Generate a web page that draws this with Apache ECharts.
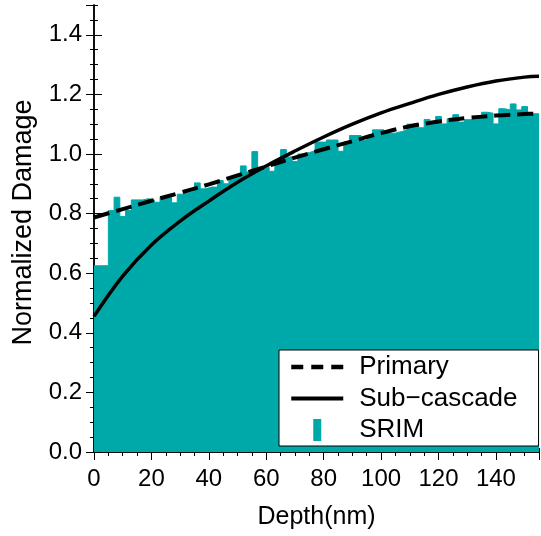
<!DOCTYPE html>
<html><head><meta charset="utf-8">
<script src="https://cdn.jsdelivr.net/npm/echarts@6/dist/echarts.min.js"></script>
<style>html,body{margin:0;padding:0;background:#fff}#c{width:541px;height:536px}</style>
</head><body><div id="c"></div>
<script>
// SRIM histogram: bin start (nm) and normalized damage
const binStart = [0,5,7,9,11,13,15,17,19,21,23,25,27,29,31,33,35,37,39,41,43,45,47,49,51,53,55,57,59,61,63,65,67,69,71,73,75,77,79,81,83,85,87,89,91,93,95,97,99,101,103,105,107,109,111,113,115,117,119,121,123,125,127,129,131,133,135,137,139,141,143,145,147,149,151,153];
const binEnd = 155;
const srimValues = [0.625,0.81,0.855,0.79,0.81,0.846,0.846,0.85,0.846,0.838,0.855,0.855,0.836,0.865,0.87,0.875,0.903,0.883,0.889,0.889,0.911,0.90,0.92,0.925,0.96,0.94,1.008,0.95,0.955,0.942,0.98,1.015,0.99,0.975,1.0,1.005,1.01,1.04,1.04,1.047,1.047,1.009,1.04,1.062,1.062,1.045,1.06,1.081,1.081,1.07,1.07,1.075,1.08,1.10,1.10,1.088,1.116,1.10,1.126,1.101,1.118,1.132,1.107,1.115,1.121,1.126,1.14,1.137,1.101,1.152,1.148,1.168,1.148,1.159,1.135,1.135];
// Model curves
const curveDepth = [0,10,20,30,40,50,60,70,80,90,100,110,120,130,140,150,155];
const primaryValues = [0.787,0.815,0.843,0.87,0.898,0.928,0.958,0.988,1.016,1.043,1.07,1.093,1.109,1.121,1.129,1.134,1.136];
const subcascadeValues = [0.455,0.59,0.695,0.775,0.842,0.905,0.96,1.01,1.057,1.1,1.138,1.17,1.2,1.225,1.245,1.258,1.261];
const seriesNames = ['Primary','Sub\u2212cascade','SRIM'];

const FONT = 'Liberation Sans, Arial, sans-serif';
const TEAL = '#00A9A9';
const srimData = binStart.map((x,i)=>[x, srimValues[i]]);
srimData.push([binEnd, srimValues[srimValues.length-1]]);
const primaryData = curveDepth.map((x,i)=>[x, primaryValues[i]]);
const subData = curveDepth.map((x,i)=>[x, subcascadeValues[i]]);

function xAx(pos, interval, len, labels, line){
  return {type:'value', min:0, max:155, interval:interval, position:pos,
    axisLine:{show:line, lineStyle:{color:'#000', width:1.5}},
    axisTick:{show:true, inside:true, length:len, lineStyle:{color:'#000', width:1}},
    axisLabel:{show:labels, showMaxLabel:false, color:'#000', fontSize:24, fontFamily:FONT, margin:15},
    splitLine:{show:false}};
}
function yAx(pos, interval, len, labels, line){
  return {type:'value', min:0, max:1.5, interval:interval, position:pos,
    axisLine:{show:line, lineStyle:{color:'#000', width:1.5}},
    axisTick:{show:true, inside:true, length:len, lineStyle:{color:'#000', width:1}},
    axisLabel:{show:labels, showMaxLabel:false, color:'#000', fontSize:24, fontFamily:FONT, margin:12,
      formatter:v=>v.toFixed(1)},
    splitLine:{show:false}};
}
const x0 = xAx('bottom',20,8,true,true);
x0.name='Depth(nm)'; x0.nameLocation='middle'; x0.nameGap=53;
x0.nameTextStyle={color:'#000', fontSize:25, fontFamily:FONT};
const y0 = yAx('left',0.2,8,true,true);
y0.name='Normalized Damage'; y0.nameLocation='middle'; y0.nameGap=57;
y0.nameTextStyle={color:'#000', fontSize:27, fontFamily:FONT, padding:[0,0,0,12]};

const chart = echarts.init(document.getElementById('c'), null, {renderer:'canvas'});
chart.setOption({
  animation:false,
  backgroundColor:'#fff',
  grid:{left:94, right:2, top:5, bottom:84},
  xAxis:[x0, xAx('bottom',5,4,false,false), xAx('top',20,8,false,true), xAx('top',5,4,false,false)],
  yAxis:[y0, yAx('left',0.05,4,false,false), yAx('right',0.2,8,false,true), yAx('right',0.05,4,false,false)],
  legend:{
    left:279, top:350, orient:'vertical', selectedMode:false,
    backgroundColor:'#fff', borderColor:'#000', borderWidth:1,
    padding:[4,21,3,10], itemWidth:52, itemHeight:22, itemGap:5.5,
    textStyle:{color:'#000', fontSize:26, fontFamily:FONT, padding:[0,0,0,11]},
    data:[
      {name:seriesNames[0], lineStyle:{type:[12,8], width:4.5, color:'#000'}, itemStyle:{opacity:0}},
      {name:seriesNames[1], lineStyle:{width:4, color:'#000'}, itemStyle:{opacity:0}},
      {name:seriesNames[2], icon:'path://M0,0L8,0L8,22L0,22Z'}]
  },
  series:[
    {name:seriesNames[2], type:'line', step:'end', data:srimData, symbol:'none', z:1,
      itemStyle:{color:TEAL}, lineStyle:{color:TEAL, width:1}, areaStyle:{color:TEAL, opacity:1}},
    {name:seriesNames[0], type:'line', data:primaryData, smooth:0.4, symbol:'none', z:3,
      itemStyle:{color:'#000'}, lineStyle:{color:'#000', width:4, type:[16,7]}},
    {name:seriesNames[1], type:'line', data:subData, smooth:0.4, symbol:'none', z:3,
      itemStyle:{color:'#000'}, lineStyle:{color:'#000', width:3.5}}
  ]
});
</script></body></html>
